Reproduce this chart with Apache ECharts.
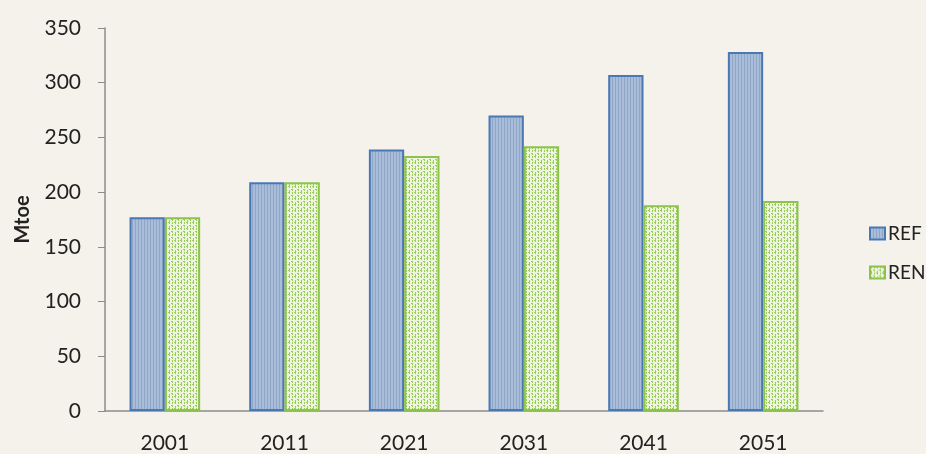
<!DOCTYPE html>
<html><head><meta charset="utf-8">
<script src="https://cdn.jsdelivr.net/npm/echarts@6/dist/echarts.min.js"></script>
<style>html,body{margin:0;padding:0;background:#f4f2ea;}#c{width:926px;height:454px;}</style>
</head><body><div id="c"></div>
<script>
const categories = ['2001','2011','2021','2031','2041','2051'];
const refValues = [177, 209, 239, 270, 307, 328];
const renValues = [177, 209, 233, 242, 188, 192];
const yTicks = [0, 50, 100, 150, 200, 250, 300, 350];

function stripePattern(){
  const c = document.createElement('canvas'); c.width = 3; c.height = 4;
  const g = c.getContext('2d');
  g.fillStyle = '#a9bcd8'; g.fillRect(0,0,3,4);
  g.fillStyle = '#8fa6c9'; g.fillRect(0,0,1,4);
  return c;
}
function dotPattern(){
  const c = document.createElement('canvas'); c.width = 6; c.height = 6;
  const g = c.getContext('2d');
  g.fillStyle = '#eef5df'; g.fillRect(0,0,6,6);
  g.fillStyle = '#9ccb5e';
  g.fillRect(0,0,2,1); g.fillRect(1,1,1,1);
  g.fillRect(3,3,2,1); g.fillRect(4,4,1,1);
  g.fillRect(4,0,1,2); g.fillRect(1,4,1,2);
  return c;
}
const refFill = {image: stripePattern(), repeat: 'repeat'};
const renFill = {image: dotPattern(), repeat: 'repeat'};
const font = 'Lato, "Open Sans", sans-serif';

const chart = echarts.init(document.getElementById('c'));
chart.setOption({
  backgroundColor: '#f4f2ea',
  textStyle: {fontFamily: font},
  grid: {left: 105, right: 103, top: 28, bottom: 42},
  legend: {
    orient: 'vertical', left: 864, top: 219, itemGap: 20,
    itemWidth: 15, itemHeight: 12, icon: 'rect',
    textStyle: {fontSize: 19, color: '#222', fontFamily: font, padding: [0,0,0,-2]},
    data: [
      {name: 'REF', itemStyle: {color: refFill, borderColor: '#4a78b5', borderWidth: 2}},
      {name: 'REN', itemStyle: {color: renFill, borderColor: '#8cc24d', borderWidth: 2}}
    ]
  },
  xAxis: {
    type: 'category', data: categories,
    axisLine: {lineStyle: {color: '#8c8c8c', width: 1.5}},
    axisTick: {show: false},
    axisLabel: {fontSize: 21, color: '#222', margin: 22}
  },
  yAxis: {
    type: 'value', min: 0, max: 350, interval: 50,
    name: 'Mtoe', nameLocation: 'middle', nameGap: 72, nameRotate: 90,
    nameTextStyle: {fontSize: 20, fontWeight: 'bold', color: '#222'},
    axisLine: {show: true, lineStyle: {color: '#8c8c8c', width: 1.5}},
    axisTick: {show: true, inside: false, length: 7, lineStyle: {color: '#8c8c8c'}},
    splitLine: {show: false},
    axisLabel: {fontSize: 21, color: '#222', margin: 24,
      formatter: v => yTicks.includes(v) ? String(v) : ''}
  },
  series: [
    {name: 'REF', type: 'bar', data: refValues, barGap: '0%', barCategoryGap: '41%',
     itemStyle: {color: refFill, borderColor: '#4a78b5', borderWidth: 2}},
    {name: 'REN', type: 'bar', data: renValues,
     itemStyle: {color: renFill, borderColor: '#8cc24d', borderWidth: 2}}
  ]
});
</script></body></html>
